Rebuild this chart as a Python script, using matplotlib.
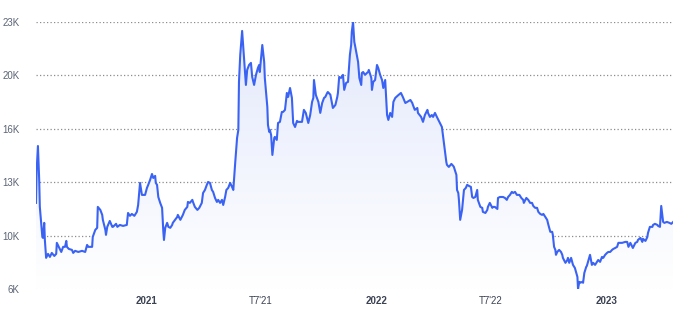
import numpy as np
import matplotlib
matplotlib.use("Agg")
import matplotlib.pyplot as plt
import matplotlib.dates as mdates
from datetime import date, timedelta

# days since the first point, and price in thousands
start = date(2020, 7, 9)
days = [0, 1, 3, 5, 6, 10, 11, 13, 14, 16, 19, 22, 25, 29, 32, 33, 37, 40, 43, 46,
        48, 49, 52, 57, 59, 62, 67, 73, 78, 81, 83, 86, 89, 90, 94, 97, 98, 102, 105, 106,
        110, 111, 113, 117, 121, 122, 127, 129, 133, 138, 144, 146, 149, 152, 156, 160, 162, 165, 168, 173,
        176, 178, 181, 184, 186, 189, 190, 192, 194, 197, 200, 202, 203, 205, 208, 210, 213, 216, 217, 224,
        225, 229, 233, 236, 240, 241, 244, 248, 249, 252, 256, 259, 263, 265, 268, 271, 273, 276, 279, 281,
        284, 287, 289, 292, 295, 297, 300, 302, 305, 308, 311, 313, 316, 319, 321, 322, 324, 327, 329, 330,
        333, 335, 338, 341, 343, 346, 349, 352, 354, 355, 359, 362, 363, 367, 368, 370, 371, 373, 375, 378,
        379, 382, 384, 387, 390, 392, 395, 398, 400, 403, 406, 408, 411, 414, 416, 419, 422, 425, 428, 432,
        435, 438, 440, 441, 444, 448, 451, 454, 457, 459, 462, 463, 467, 471, 475, 478, 479, 481, 484, 487,
        489, 492, 495, 498, 500, 501, 503, 505, 506, 509, 511, 513, 516, 517, 519, 522, 525, 527, 528, 532,
        533, 535, 538, 541, 543, 546, 549, 551, 554, 557, 559, 562, 565, 567, 570, 575, 579, 582, 586, 589,
        594, 597, 598, 601, 605, 606, 611, 614, 617, 621, 622, 625, 628, 630, 633, 636, 640, 641, 644, 646,
        648, 651, 652, 655, 659, 662, 663, 667, 668, 670, 671, 673, 676, 678, 679, 682, 684, 687, 690, 692,
        694, 697, 700, 701, 705, 708, 709, 713, 716, 717, 720, 724, 725, 728, 732, 733, 736, 741, 744, 747,
        749, 752, 755, 757, 760, 763, 767, 770, 773, 774, 778, 781, 784, 787, 789, 792, 795, 797, 800, 803,
        805, 808, 811, 813, 816, 819, 820, 822, 824, 825, 827, 830, 833, 835, 836, 840, 843, 844, 846, 849,
        851, 852, 855, 859, 860, 862, 863, 867, 868, 870, 873, 874, 878, 879, 882, 884, 887, 890, 892, 895,
        898, 900, 903, 906, 908, 911, 914, 916, 919, 922, 924, 930, 935, 938, 940, 943, 946, 947, 951, 954,
        955, 959, 962, 963, 967, 970, 971, 974, 978, 979, 982, 986, 987, 990, 992, 995, 997, 1001, 1005, 1008,
        1011]
price = [11.68, 13.74, 15.24, 13.12, 11.43, 9.55, 9.49, 10.43, 9.36, 8.24, 8.49, 8.30, 8.55, 8.36, 8.49, 9.18, 8.86, 8.61, 8.93, 8.93,
         9.30, 8.93, 8.80, 8.74, 8.55, 8.68, 8.61, 8.68, 8.61, 9.05, 8.93, 8.93, 8.93, 9.55, 9.99, 10.12, 11.43, 11.24, 10.93, 10.62,
         9.99, 9.68, 10.18, 10.55, 10.18, 10.18, 10.37, 10.18, 10.30, 10.24, 10.30, 11.05, 10.87, 10.99, 10.87, 11.12, 11.55, 12.93, 12.18, 12.18,
         12.62, 12.81, 13.12, 13.49, 13.24, 13.37, 12.93, 12.81, 12.05, 11.68, 11.37, 9.87, 9.36, 10.12, 10.43, 10.18, 10.12, 10.30, 10.43, 10.80,
         10.93, 10.62, 10.93, 11.24, 11.43, 11.74, 11.68, 11.87, 11.74, 11.43, 11.24, 11.37, 11.68, 12.30, 12.49, 12.81, 12.99, 12.93, 12.49, 12.37,
         11.99, 11.74, 11.87, 11.68, 11.87, 11.55, 12.05, 12.49, 12.62, 12.93, 12.68, 12.49, 14.18, 15.75, 16.25, 19.25, 20.94, 22.44, 21.37, 20.75,
         19.06, 20.00, 20.31, 20.44, 19.56, 19.06, 19.69, 20.12, 20.31, 19.87, 21.56, 20.50, 19.50, 17.68, 16.56, 16.12, 16.25, 15.93, 14.68, 15.75,
         15.81, 15.62, 16.68, 16.75, 17.37, 17.37, 17.50, 18.56, 18.31, 18.87, 18.25, 16.68, 16.43, 16.81, 16.75, 16.75, 16.75, 17.50, 17.31, 16.68,
         17.18, 18.00, 18.25, 19.37, 18.43, 18.00, 17.31, 17.93, 18.25, 18.31, 18.56, 18.62, 18.45, 17.62, 17.81, 18.31, 18.56, 19.56, 19.50, 19.69,
         18.75, 19.19, 19.25, 20.94, 21.56, 22.38, 23.00, 21.75, 21.56, 20.94, 20.50, 19.50, 19.06, 19.81, 19.87, 19.69, 19.81, 19.87, 20.00, 19.50,
         18.75, 19.25, 19.37, 20.31, 20.12, 19.69, 19.37, 18.87, 19.37, 17.18, 16.87, 17.31, 17.06, 18.00, 18.25, 18.43, 18.56, 18.31, 17.93, 18.00,
         18.12, 17.93, 17.81, 17.50, 17.62, 17.31, 17.06, 16.75, 17.18, 17.50, 17.31, 17.06, 17.18, 17.06, 17.31, 17.06, 16.75, 16.68, 16.43, 15.81,
         15.18, 14.24, 14.06, 13.93, 14.12, 13.99, 13.93, 13.43, 12.49, 12.30, 11.87, 10.62, 11.24, 12.05, 12.49, 12.62, 12.81, 12.74, 12.68, 12.05,
         11.99, 12.05, 12.49, 11.87, 11.43, 11.37, 11.12, 11.05, 11.24, 11.43, 11.68, 11.37, 11.43, 11.43, 11.30, 11.99, 12.05, 12.05, 11.99, 11.87,
         12.05, 12.18, 12.37, 12.30, 12.37, 12.18, 12.18, 11.99, 11.87, 11.68, 11.99, 11.87, 11.68, 11.68, 11.49, 11.37, 11.37, 11.12, 10.99, 10.93,
         10.99, 10.80, 10.62, 10.30, 9.87, 9.87, 9.68, 8.93, 8.74, 8.43, 8.61, 8.74, 8.61, 8.43, 8.24, 7.93, 8.11, 8.24, 7.93, 8.24,
         7.93, 7.80, 7.61, 7.05, 6.30, 6.74, 6.68, 6.74, 6.68, 7.30, 7.68, 7.74, 8.30, 8.43, 7.80, 7.93, 7.80, 7.99, 8.11, 7.99,
         8.30, 8.24, 8.43, 8.55, 8.61, 8.61, 8.74, 8.80, 8.86, 8.93, 9.18, 9.18, 9.24, 9.24, 8.93, 9.18, 8.93, 8.86, 9.18, 9.24,
         9.36, 9.49, 9.24, 9.43, 9.30, 9.55, 9.80, 10.18, 10.18, 10.30, 10.37, 10.30, 10.24, 10.18, 11.49, 10.49, 10.43, 10.49, 10.43, 10.37,
         10.49]

y_ticks = np.linspace(6.3, 23.0, 6)
y_labels = ["6K", "10K", "13K", "16K", "20K", "23K"]
x_ticks = [date(2021, 1, 1), date(2021, 7, 1), date(2022, 1, 1), date(2022, 7, 1), date(2023, 1, 1)]
x_labels = ["2021", "T7'21", "2022", "T7'22", "2023"]

dates = [start + timedelta(days=d) for d in days]
xs = mdates.date2num(dates)
ys = np.array(price)

plt.rcParams['font.family'] = ['Liberation Sans', 'DejaVu Sans']
fig = plt.figure(figsize=(6.8, 3.14), dpi=100)
ax = fig.add_axes([0.053, 0.080, 0.937, 0.850])

ymin, ymax = y_ticks[0], y_ticks[-1]
xmin, xmax = xs[0], xs[-1]

# gradient fill under the line
grad = np.linspace(0, 1, 256).reshape(-1, 1)
cmap = matplotlib.colors.LinearSegmentedColormap.from_list("g", ["#ffffff", "#e3e9fc"])
poly = ax.fill_between(xs, ys, ymin, color="none", lw=0)
img = ax.imshow(grad, aspect="auto", cmap=cmap, origin="lower",
                extent=[xmin, xmax, ymin, ys.max()], zorder=1)
img.set_clip_path(poly.get_paths()[0], transform=ax.transData)

for t in y_ticks:
    ax.axhline(t, color="#8c8c8c", lw=0.9, ls=(0, (1, 1.8)), zorder=0)

ax.plot(xs, ys, color="#3b63f3", lw=1.5, zorder=3, solid_joinstyle="round")

ax.set_xlim(xmin, xmax)
ax.set_ylim(ymin, ymax)
ax.set_yticks(y_ticks)
ax.set_yticklabels(y_labels, fontsize=7, color="#5b6475")
ax.set_xticks(mdates.date2num(x_ticks))
ax.set_xticklabels(x_labels, fontsize=7, color="#3b4252")
for lab in ax.get_xticklabels():
    if lab.get_text().isdigit():
        lab.set_fontweight("bold")
ax.tick_params(axis="y", length=0, pad=12)
ax.tick_params(axis="x", length=0, pad=5)
for s in ax.spines.values():
    s.set_visible(False)

fig.savefig("out.png", dpi=100)
